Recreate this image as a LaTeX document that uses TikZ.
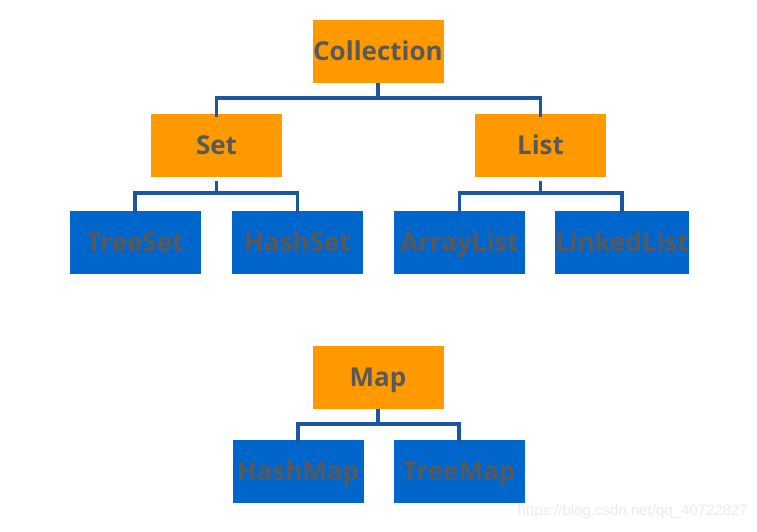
\documentclass[tikz,border=0pt]{standalone}
\usepackage{fontspec}
\setmainfont{Open Sans}
\newfontfamily\wmfont{Liberation Sans}
\definecolor{orangebox}{HTML}{FF9900}
\definecolor{bluebox}{HTML}{0066CC}
\definecolor{txtgrey}{HTML}{595959}
\definecolor{linkblue}{HTML}{1C55A0}
\definecolor{wmgrey}{HTML}{EBEBEB}
\begin{document}
\begin{tikzpicture}[x=1pt,y=-1pt,
  box/.style={minimum width=131pt,minimum height=63pt,inner sep=0pt,
    text height=18.8pt,text depth=0pt,
    text=txtgrey,font=\fontsize{26}{26}\selectfont\bfseries},
  obox/.style={box,fill=orangebox},
  bbox/.style={box,fill=bluebox},
  conn/.style={draw=linkblue,line width=3.2pt,line join=miter}]
\useasboundingbox (0,0) rectangle (757,531);
\fill[white] (0,0) rectangle (757,531);
% nodes
\node[obox] (Collection) at (378,51) {Collection};
\node[obox] (Set) at (216.5,145.5) {Set};
\node[obox] (List) at (540.5,145.5) {List};
\node[bbox] (TreeSet) at (135,242) {TreeSet};
\node[bbox] (HashSet) at (297.5,242) {HashSet};
\node[bbox] (ArrayList) at (459.5,242) {ArrayList};
\node[bbox] (LinkedList) at (622,242) {LinkedList};
\node[obox] (Map) at (378,377) {Map};
\node[bbox] (HashMap) at (298,471.5) {HashMap};
\node[bbox] (TreeMap) at (459,471.5) {TreeMap};
% junctions
\coordinate (jC) at (378,98);
\coordinate (jS) at (216.5,193);
\coordinate (jL) at (540.5,193);
\coordinate (jM) at (378,424);
% connectors
\draw[conn] (Collection.south) -- (jC);
\draw[conn] ([yshift=-3pt]Set.north) |- (jC) -| ([yshift=-3pt]List.north);
\draw[conn] ([yshift=-4pt]Set.south) -- (jS);
\draw[conn] ([yshift=-4pt]TreeSet.north) |- (jS) -| ([yshift=-4pt]HashSet.north);
\draw[conn] ([yshift=-4pt]List.south) -- (jL);
\draw[conn] ([yshift=-4pt]ArrayList.north) |- (jL) -| ([yshift=-4pt]LinkedList.north);
\draw[conn] (Map.south) -- (jM);
\draw[conn] ([yshift=-3pt]HashMap.north) |- (jM) -| ([yshift=-3pt]TreeMap.north);
% watermark
\node[anchor=east,text=wmgrey,font=\wmfont\fontsize{15}{15}\selectfont,inner sep=0pt] (wm) at (748,512) {https://blog.csdn.net/qq\_40722827};
\end{tikzpicture}
\end{document}
